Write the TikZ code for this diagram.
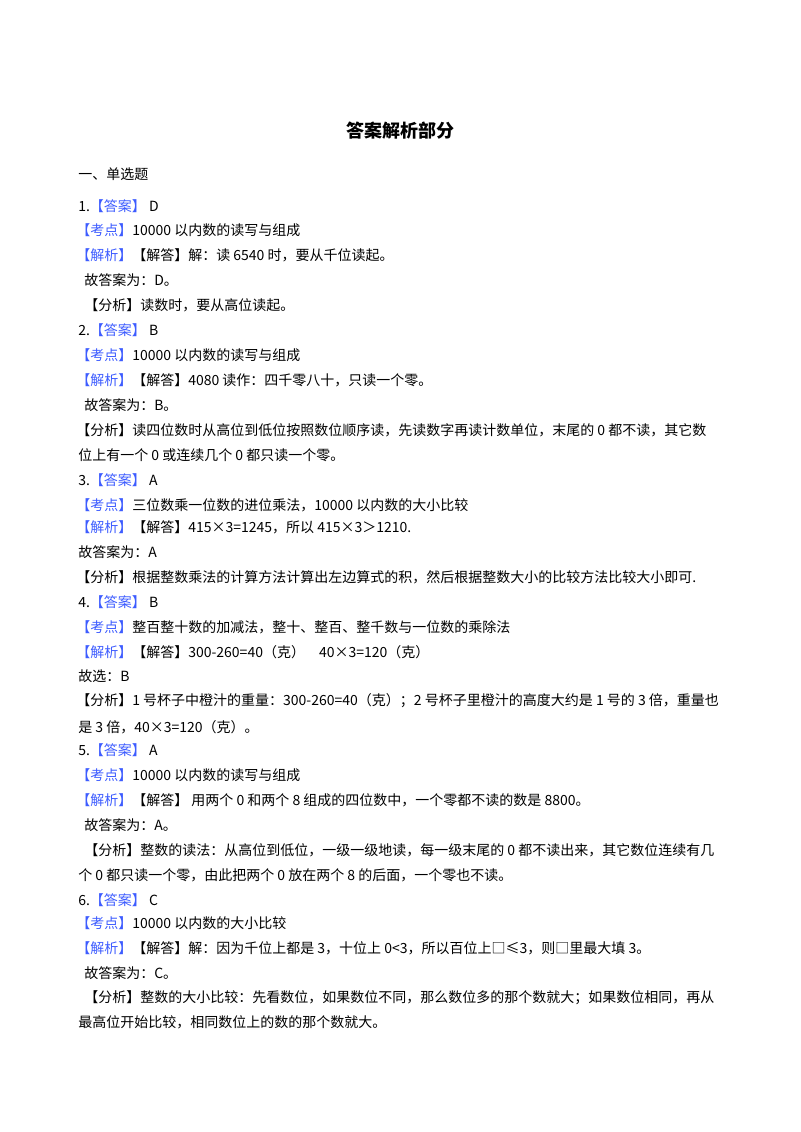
\documentclass[tikz,border=0pt]{standalone}
\usepackage{fontspec}
\setmainfont{Noto Sans CJK SC}
\definecolor{qb}{HTML}{3D5CFF}
\newcommand{\bq}[1]{\textcolor{qb}{【#1】}}
\begin{document}
\begin{tikzpicture}[x=0.75pt,y=-0.75pt,
  ln/.style={anchor=west,inner sep=0pt,font=\fontsize{10.5}{12}\selectfont}]
\useasboundingbox[fill=white] (0,0) rectangle (800,1132);
\node[inner sep=0pt,font=\fontsize{13.5}{15}\selectfont\bfseries] (t) at (400,131) {答案解析部分};
\node[ln] (s) at (78,174) {一、单选题};
\node[ln] (a1) at (78,206) {1.\bq{答案}\ D};
\node[ln] (a2) at (76,230) {\bq{考点}10000 以内数的读写与组成};
\node[ln] (a3) at (76,255) {\bq{解析}【解答】解：读 6540 时，要从千位读起。};
\node[ln] (a4) at (84,280) {故答案为：D。};
\node[ln] (a5) at (84,305) {【分析】读数时，要从高位读起。};
\node[ln] (b1) at (78,330) {2.\bq{答案}\ B};
\node[ln] (b2) at (76,355) {\bq{考点}10000 以内数的读写与组成};
\node[ln] (b3) at (76,380) {\bq{解析}【解答】4080 读作：四千零八十，只读一个零。};
\node[ln] (b4) at (84,405) {故答案为：B。};
\node[ln] (b5) at (76,430) {【分析】读四位数时从高位到低位按照数位顺序读，先读数字再读计数单位，末尾的 0 都不读，其它数};
\node[ln] (b6) at (78,455) {位上有一个 0 或连续几个 0 都只读一个零。};
\node[ln] (c1) at (78,480) {3.\bq{答案}\ A};
\node[ln] (c2) at (76,505) {\bq{考点}三位数乘一位数的进位乘法，10000 以内数的大小比较};
\node[ln] (c3) at (76,527) {\bq{解析}【解答】415×3=1245，所以 415×3＞1210.};
\node[ln] (c4) at (78,552) {故答案为：A};
\node[ln] (c5) at (76,577) {【分析】根据整数乘法的计算方法计算出左边算式的积，然后根据整数大小的比较方法比较大小即可.};
\node[ln] (d1) at (78,602) {4.\bq{答案}\ B};
\node[ln] (d2) at (76,627) {\bq{考点}整百整十数的加减法，整十、整百、整千数与一位数的乘除法};
\node[ln] (d3) at (76,652) {\bq{解析}【解答】300-260=40（克）\quad 40×3=120（克）};
\node[ln] (d4) at (78,676) {故选：B};
\node[ln] (d5) at (76,701) {【分析】1 号杯子中橙汁的重量：300-260=40（克）；2 号杯子里橙汁的高度大约是 1 号的 3 倍，重量也};
\node[ln] (d6) at (78,727) {是 3 倍，40×3=120（克）。};
\node[ln] (e1) at (78,750) {5.\bq{答案}\ A};
\node[ln] (e2) at (76,775) {\bq{考点}10000 以内数的读写与组成};
\node[ln] (e3) at (76,800) {\bq{解析}【解答】 用两个 0 和两个 8 组成的四位数中，一个零都不读的数是 8800。};
\node[ln] (e4) at (84,825) {故答案为：A。};
\node[ln] (e5) at (84,850) {【分析】整数的读法：从高位到低位，一级一级地读，每一级末尾的 0 都不读出来，其它数位连续有几};
\node[ln] (e6) at (78,875) {个 0 都只读一个零，由此把两个 0 放在两个 8 的后面，一个零也不读。};
\node[ln] (f1) at (78,900) {6.\bq{答案}\ C};
\node[ln] (f2) at (76,923) {\bq{考点}10000 以内数的大小比较};
\node[ln] (f3) at (76,948) {\bq{解析}【解答】解：因为千位上都是 3，十位上 0<3，所以百位上□≤3，则□里最大填 3。};
\node[ln] (f4) at (84,973) {故答案为：C。};
\node[ln] (f5) at (84,998) {【分析】整数的大小比较：先看数位，如果数位不同，那么数位多的那个数就大；如果数位相同，再从};
\node[ln] (f6) at (78,1022) {最高位开始比较，相同数位上的数的那个数就大。};
\end{tikzpicture}
\end{document}
